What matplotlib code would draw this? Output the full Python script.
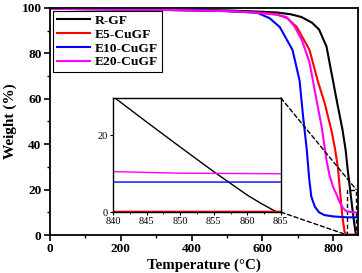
import matplotlib
matplotlib.use("Agg")
import matplotlib.pyplot as plt
from matplotlib.patches import Rectangle, ConnectionPatch
from matplotlib.ticker import MultipleLocator

plt.rcParams["font.family"] = ["Liberation Serif", "DejaVu Serif"]

# TGA data (temperature in °C, residual weight in %)
t_rgf = [0, 300, 500, 585, 640, 680, 710, 740, 760, 781, 798, 812, 826, 835,
         840, 845, 850, 855, 860, 862, 864.4, 870]
w_rgf = [99.6, 99.3, 98.9, 98.4, 98.0, 97.2, 96.0, 93.5, 90.5, 83.0, 69.0, 57.5,
         46.5, 37.5, 30.0, 23.4, 16.9, 10.5, 4.4, 2.3, 0.0, 0.0]

t_e5 = [0, 300, 500, 585, 640, 670, 697, 733, 756, 776, 795, 805, 813, 820, 826,
        832, 838, 870]
w_e5 = [99.6, 99.2, 98.6, 98.0, 97.2, 95.5, 91.6, 81.5, 68.0, 58.0, 46.0, 38.0,
        30.0, 18.0, 8.0, 1.5, 0.2, 0.2]

t_e10 = [0, 300, 500, 585, 620, 649, 685, 705, 715, 725, 732, 738, 748, 760, 775,
         800, 840, 870]
w_e10 = [99.6, 99.2, 98.6, 97.9, 95.5, 91.6, 81.5, 68.0, 52.0, 38.0, 25.0, 17.0,
         12.5, 10.0, 8.8, 8.2, 7.8, 7.8]

t_e20 = [0, 300, 500, 585, 640, 668, 690, 711, 733, 745, 757, 767, 781, 790, 800,
         809, 818, 827, 835, 850, 870]
w_e20 = [99.6, 99.2, 98.6, 97.9, 97.0, 96.0, 92.0, 86.0, 76.0, 66.0, 56.0, 48.0,
         33.0, 26.0, 21.0, 18.0, 14.5, 12.0, 10.7, 10.1, 9.9]

series = [
    ("R-GF", t_rgf, w_rgf, "black"),
    ("E5-CuGF", t_e5, w_e5, "#ff0000"),
    ("E10-CuGF", t_e10, w_e10, "#0000ff"),
    ("E20-CuGF", t_e20, w_e20, "#ff00ff"),
]

fig = plt.figure(figsize=(3.62, 2.73), dpi=100)
ax = fig.add_axes([0.138, 0.139, 0.851, 0.832])

for label, t, w, color in series:
    ax.plot(t, w, color=color, linewidth=1.5, label=label)

ax.set_xlim(0, 870)
ax.set_ylim(0, 100)
ax.xaxis.set_major_locator(MultipleLocator(200))
ax.xaxis.set_minor_locator(MultipleLocator(100))
ax.yaxis.set_major_locator(MultipleLocator(20))
ax.yaxis.set_minor_locator(MultipleLocator(10))
ax.tick_params(which="major", direction="out", length=4, width=1.2, labelsize=9.6, pad=2)
ax.tick_params(which="minor", direction="out", length=2, width=1.0)
for lab in ax.get_xticklabels() + ax.get_yticklabels():
    lab.set_fontweight("bold")
for sp in ax.spines.values():
    sp.set_linewidth(1.3)

ax.set_xlabel("Temperature (°C)", fontsize=10.8, fontweight="bold", labelpad=2)
ax.set_ylabel("Weight (%)", fontsize=11, fontweight="bold", labelpad=3)

leg = ax.legend(loc="upper left", prop={"weight": "bold", "size": 9.7},
                handlelength=2.5, handletextpad=0.3, labelspacing=0.1,
                borderpad=0.3, borderaxespad=0.2, fancybox=False, framealpha=1)
leg.get_frame().set_edgecolor("black")
leg.get_frame().set_linewidth(0.8)

# zoomed region marker
rect = Rectangle((840, 0), 25, 20, fill=False, edgecolor="black",
                 linestyle=(0, (3, 2)), linewidth=1.0)
ax.add_patch(rect)

# inset
axin = fig.add_axes([0.312, 0.223, 0.464, 0.418])
for label, t, w, color in series:
    axin.plot(t, w, color=color, linewidth=1.0)
axin.set_xlim(840, 865)
axin.set_ylim(0, 29.6)
axin.xaxis.set_major_locator(MultipleLocator(5))
axin.xaxis.set_minor_locator(MultipleLocator(2.5))
axin.set_yticks([0, 20])
axin.tick_params(which="major", direction="out", length=2.5, width=0.8, labelsize=7.5, pad=1)
axin.tick_params(which="minor", direction="out", length=1.5, width=0.6)
for sp in axin.spines.values():
    sp.set_linewidth(1.0)

for xy_in, xy_main in [((1, 1), (865, 20)), ((1, 0), (840, 0))]:
    con = ConnectionPatch(xyA=xy_in, coordsA=axin.transAxes, xyB=xy_main, coordsB=ax.transData,
                          linestyle=(0, (3, 2)), linewidth=1.0, color="black")
    fig.add_artist(con)

fig.savefig("out.png", dpi=100)
